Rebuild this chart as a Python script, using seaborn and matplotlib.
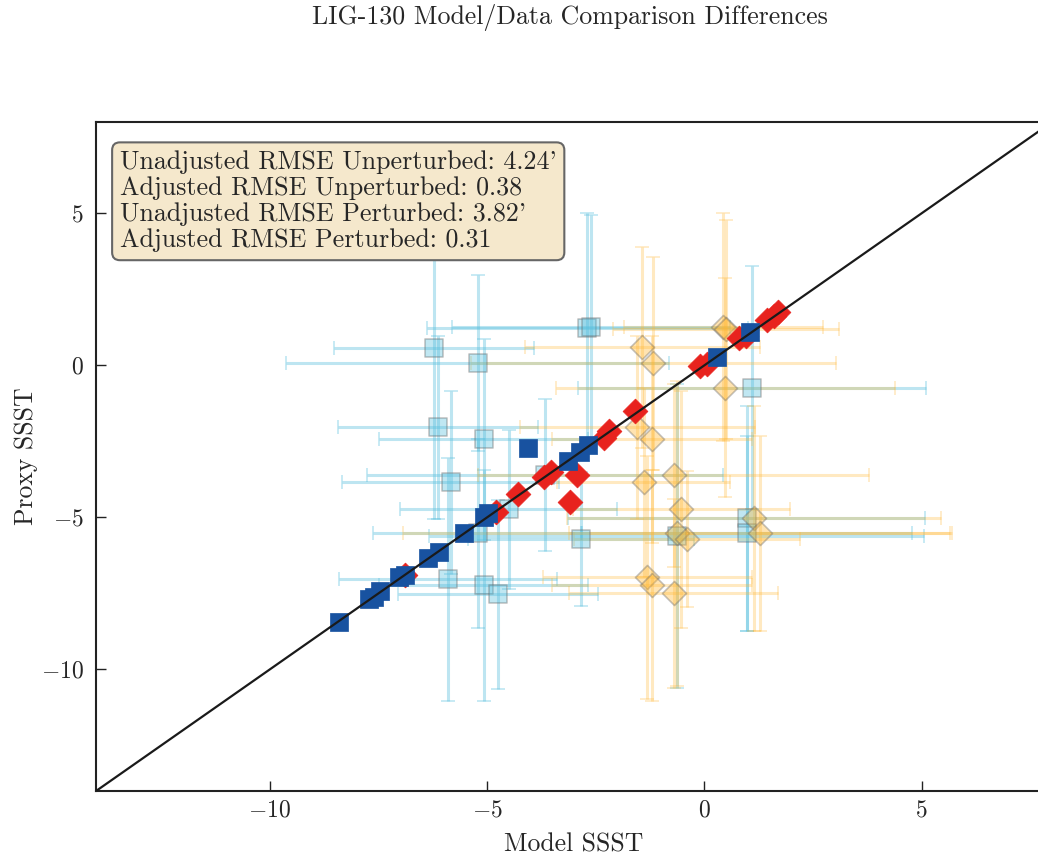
import numpy as np
import pandas as pd
import matplotlib
matplotlib.use("Agg")
import matplotlib.pyplot as plt
import seaborn as sns

# ---------------- data ----------------
# Unadjusted, unperturbed model vs proxy (light cyan squares)
uu_x = [-2.69, -2.60, -6.23, -5.22, -6.14, -5.08, -5.84, -3.66, -4.50, -5.22, -2.85, -0.64, -5.90, -5.08, -4.74, 1.10, 0.97, 0.97]
uu_y = [1.22, 1.25, 0.56, 0.07, -2.04, -2.43, -3.85, -3.62, -4.74, -5.53, -5.72, -5.62, -7.04, -7.24, -7.53, -0.73, -5.03, -5.53]
uu_xerr = [3.7, 3.2, 2.3, 4.4, 2.3, 2.4, 2.5, 4.1, 2.5, 2.4, 2.6, 5.7, 2.5, 2.4, 2.3, 4.0, 4.1, 3.8]
uu_yerr = [3.8, 3.7, 5.6, 2.9, 3.0, 3.3, 3.0, 2.5, 2.6, 3.1, 2.2, 5.0, 4.0, 3.8, 3.1, 4.0, 3.7, 3.2]

# Unadjusted, perturbed model vs proxy (light orange diamonds)
up_x = [0.44, 0.50, -1.43, -1.18, -1.54, -1.20, -1.40, -0.71, -0.53, -0.64, -0.39, -1.31, -1.20, -0.71, 0.48, 1.15, 1.29]
up_y = [1.25, 1.18, 0.59, 0.07, -2.04, -2.43, -3.85, -3.62, -4.74, -5.53, -5.72, -6.97, -7.24, -7.50, -0.73, -5.03, -5.53]
up_xerr = [2.3, 2.6, 2.7, 4.2, 2.7, 2.3, 2.0, 4.5, 2.5, 6.3, 2.6, 2.4, 2.3, 2.4, 3.9, 4.3, 4.4]
up_yerr = [3.75, 3.6, 3.3, 3.5, 3.0, 3.4, 3.1, 3.0, 3.9, 5.0, 2.24, 4.0, 3.8, 3.1, 3.6, 3.7, 3.2]

# Adjusted, unperturbed (dark blue squares)
au_x = [-8.41, -7.72, -7.60, -7.47, -7.03, -6.90, -6.37, -6.11, -5.54, -5.08, -4.97, -4.05, -3.13, -2.87, -2.67, 0.28, 1.06]
au_y = [-8.45, -7.70, -7.62, -7.43, -6.97, -6.88, -6.35, -6.15, -5.53, -5.00, -4.87, -2.73, -3.13, -2.86, -2.63, 0.26, 1.08]

# Adjusted, perturbed (red diamonds)
ap_x = [-6.90, -4.80, -4.28, -3.70, -3.54, -2.94, -3.10, -2.32, -2.20, -1.59, -0.09, 0.05, 0.80, 0.95, 1.45, 1.60, 1.70]
ap_y = [-6.88, -4.84, -4.24, -3.68, -3.52, -3.62, -4.50, -2.40, -2.17, -1.51, -0.03, 0.05, 0.89, 0.98, 1.48, 1.62, 1.74]

rmse_labels = ["Unadjusted RMSE Unperturbed", "Adjusted RMSE Unperturbed",
               "Unadjusted RMSE Perturbed", "Adjusted RMSE Perturbed"]
rmse_values = ["4.24'", "0.38", "3.82'", "0.31"]

x_ticks = [-10, -5, 0, 5]
y_ticks = [-10, -5, 0, 5]

# ---------------- style ----------------
sns.set_style("ticks")
plt.rcParams["font.family"] = ["cmr10", "DejaVu Serif"]
plt.rcParams["mathtext.fontset"] = "cm"
plt.rcParams["axes.formatter.use_mathtext"] = True
plt.rcParams["axes.unicode_minus"] = True

CYAN = "#5bc0de"
ORANGE = "#ffb732"
BLUE = "#1852a0"
RED = "#e8231e"

fig = plt.figure(figsize=(10.38, 8.56), dpi=100)
ax = fig.add_axes([0.0925, 0.0759, 0.921, 0.7815])

# error bars
ax.errorbar(uu_x, uu_y, xerr=uu_xerr, yerr=uu_yerr, fmt="none", ecolor=CYAN,
            elinewidth=2.2, capsize=5, capthick=1.2, alpha=0.4, zorder=2)
ax.errorbar(up_x, up_y, xerr=up_xerr, yerr=up_yerr, fmt="none", ecolor=ORANGE,
            elinewidth=2.2, capsize=5, capthick=1.2, alpha=0.3, zorder=2)

df_uu = pd.DataFrame({"x": uu_x, "y": uu_y})
df_up = pd.DataFrame({"x": up_x, "y": up_y})
df_au = pd.DataFrame({"x": au_x, "y": au_y})
df_ap = pd.DataFrame({"x": ap_x, "y": ap_y})

sns.scatterplot(data=df_uu, x="x", y="y", ax=ax, marker="s", s=150, color=CYAN,
                alpha=0.38, edgecolor="#666666", linewidth=1.2, zorder=3)
sns.scatterplot(data=df_up, x="x", y="y", ax=ax, marker="D", s=150, color=ORANGE,
                alpha=0.38, edgecolor="#666666", linewidth=1.2, zorder=3)
sns.scatterplot(data=df_ap, x="x", y="y", ax=ax, marker="D", s=160, color=RED,
                alpha=1.0, edgecolor=RED, linewidth=0.5, zorder=4)
sns.scatterplot(data=df_au, x="x", y="y", ax=ax, marker="s", s=170, color=BLUE,
                alpha=1.0, edgecolor=BLUE, linewidth=0.5, zorder=5)

ax.axline((0, 0), slope=1, color="#1a1a1a", lw=1.6, zorder=6)

ax.set_xlim(-14, 8)
ax.set_ylim(-14, 8)
ax.set_xticks(x_ticks)
ax.set_yticks(y_ticks)
ax.tick_params(direction="in", length=7, width=1.0, labelsize=17, color="#222222",
               top=False, right=False)
ax.tick_params(axis="x", pad=6)
ax.tick_params(axis="y", pad=9)
for sp in ax.spines.values():
    sp.set_linewidth(1.5)
    sp.set_color("#222222")

ax.set_xlabel("Model SSST", fontsize=18.5, labelpad=8)
ax.set_ylabel("Proxy SSST", fontsize=18.5, labelpad=2)

txt = "\n".join(f"{l}: {v}" for l, v in zip(rmse_labels, rmse_values))
ax.text(0.025, 0.958, txt, transform=ax.transAxes, fontsize=18.7, va="top", ha="left",
        linespacing=1.13, zorder=10,
        bbox=dict(boxstyle="round,pad=0.3", facecolor="#f5e8cc", edgecolor="#666666",
                  linewidth=1.5, alpha=1.0))

fig.text(0.549, 0.979, "LIG-130 Model/Data Comparison Differences", fontsize=18.6,
         ha="center", va="center")

fig.savefig("out.png", dpi=100)
